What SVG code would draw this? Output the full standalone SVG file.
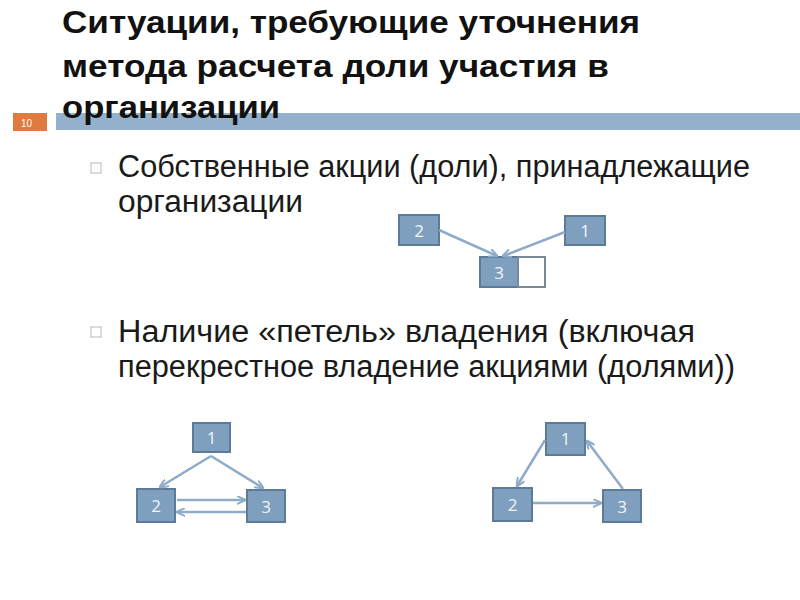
<svg xmlns="http://www.w3.org/2000/svg" width="800" height="600" viewBox="0 0 800 600">
<style>
.title{font-family:"Liberation Sans",Arial,sans-serif;font-weight:bold;font-size:31px;fill:#111}
.body{font-family:"Liberation Sans",Arial,sans-serif;font-size:31px;fill:#1a1a1a}
.box{fill:#7f9fbe;stroke:#5d7a98;stroke-width:2}
.empty{fill:#fff;stroke:#7a8a9a;stroke-width:2}
.lbl{font-family:"Open Sans","Liberation Sans",sans-serif;font-size:17px;fill:#f2f5f8;text-anchor:middle}
.edge{stroke:#8eabc8;stroke-width:2.5;fill:none;marker-end:url(#ah)}
.bul{fill:#fff;stroke:#b9b9b9;stroke-width:1}
</style>
<defs>
<marker id="ah" viewBox="0 0 10 10" refX="9" refY="5" markerWidth="9" markerHeight="9" orient="auto" markerUnits="userSpaceOnUse">
<path d="M0,0.5 L10,5 L0,9.5" fill="none" stroke="#8eabc8" stroke-width="2.2"/>
</marker>
</defs>
<rect width="800" height="600" fill="#fff"/>
<g id="header-bar">
<rect x="56" y="113" width="744" height="17" fill="#93b1cd"/>
<rect x="13" y="113" width="34" height="18" fill="#e07b3f"/>
<text x="21" y="127" font-family="Liberation Sans,sans-serif" font-size="10" fill="#fff">10</text>
</g>
<g id="title">
<text class="title" x="62" y="33" textLength="578" lengthAdjust="spacingAndGlyphs">Ситуации, требующие уточнения</text>
<text class="title" x="62" y="77" textLength="547" lengthAdjust="spacingAndGlyphs">метода расчета доли участия в</text>
<text class="title" x="62" y="118" textLength="218" lengthAdjust="spacingAndGlyphs">организации</text>
</g>
<g id="bullets">
<rect class="bul" x="91" y="163" width="10" height="10"/>
<text class="body" x="118" y="177" textLength="632" lengthAdjust="spacingAndGlyphs">Собственные акции (доли), принадлежащие</text>
<text class="body" x="118" y="212" textLength="185" lengthAdjust="spacingAndGlyphs">организации</text>
<rect class="bul" x="91" y="327" width="10" height="10"/>
<text class="body" x="118" y="342" textLength="577" lengthAdjust="spacingAndGlyphs">Наличие «петель» владения (включая</text>
<text class="body" x="118" y="377" textLength="617" lengthAdjust="spacingAndGlyphs">перекрестное владение акциями (долями))</text>
</g>
<g id="d1-n2"><rect class="box" x="399" y="215" width="40" height="30"/><text class="lbl" x="419" y="237">2</text></g>
<g id="d1-n1"><rect class="box" x="565" y="216" width="40" height="29"/><text class="lbl" x="585" y="237">1</text></g>
<g id="d1-n3"><rect class="box" x="480" y="257" width="38" height="30"/><text class="lbl" x="499" y="279">3</text><rect class="empty" x="518" y="257" width="27" height="30"/></g>
<g id="d2-n1"><rect class="box" x="193" y="423" width="37" height="29"/><text class="lbl" x="211.5" y="444">1</text></g>
<g id="d2-n2"><rect class="box" x="137" y="489" width="38" height="33"/><text class="lbl" x="156" y="512">2</text></g>
<g id="d2-n3"><rect class="box" x="247" y="490" width="38" height="32"/><text class="lbl" x="266" y="513">3</text></g>
<g id="d3-n1"><rect class="box" x="546" y="423" width="39" height="32"/><text class="lbl" x="565.5" y="445">1</text></g>
<g id="d3-n2"><rect class="box" x="493" y="488" width="39" height="33"/><text class="lbl" x="512.5" y="511">2</text></g>
<g id="d3-n3"><rect class="box" x="603" y="490" width="38" height="32"/><text class="lbl" x="622" y="513">3</text></g>
<g id="connectors">
<line class="edge" x1="439" y1="230" x2="497" y2="256"/>
<line class="edge" x1="565" y1="232" x2="503" y2="256"/>
<line class="edge" x1="211" y1="456" x2="160" y2="487"/>
<line class="edge" x1="211" y1="456" x2="263" y2="488"/>
<line class="edge" x1="177" y1="500" x2="245" y2="500"/>
<line class="edge" x1="246" y1="512" x2="177" y2="512"/>
<line class="edge" x1="545" y1="440" x2="517" y2="486"/>
<line class="edge" x1="623" y1="489" x2="587" y2="441"/>
<line class="edge" x1="533" y1="503" x2="601" y2="503"/>
</g>
</svg>
